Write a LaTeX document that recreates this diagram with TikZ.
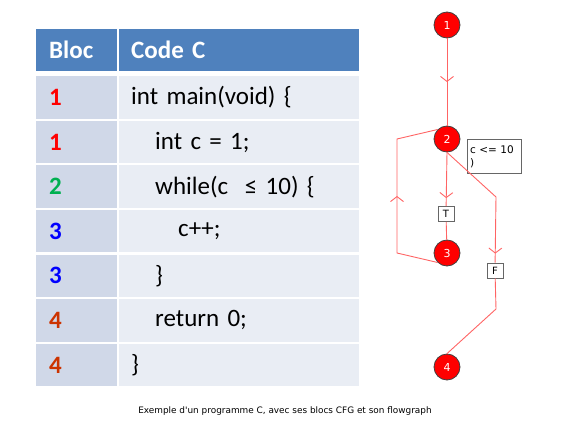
\documentclass[tikz,border=0pt]{standalone}
\usepackage{fontspec}
\setmainfont{Carlito}
\newfontfamily\grafont{DejaVu Sans}
\usepackage{xcolor}
\usetikzlibrary{arrows.meta, decorations.markings}

\definecolor{hdrblue}{RGB}{79,129,189}
\definecolor{cellA}{RGB}{208,216,232}
\definecolor{cellB}{RGB}{233,237,244}
\definecolor{blkred}{RGB}{255,0,0}
\definecolor{blkgreen}{RGB}{0,176,80}
\definecolor{blkblue}{RGB}{0,0,255}
\definecolor{blkorange}{RGB}{204,51,0}
\definecolor{edgered}{RGB}{255,100,100}

\begin{document}
\begin{tikzpicture}[
        x=1pt, y=-1pt,
        hdrcell/.style={fill=hdrblue, text=white, font=\fontsize{25}{30}\selectfont\bfseries,
                        minimum height=42pt, inner ysep=0pt, align=left, anchor=north west},
        numcell/.style={fill=cellA, font=\fontsize{25}{30}\selectfont\bfseries, text width=55pt,
                        inner xsep=13pt, inner ysep=0pt, minimum height=42.4pt, align=left,
                        anchor=north west},
        codecell/.style={fill=cellB, font=\fontsize{25}{30}\selectfont, text width=216pt,
                         inner xsep=12pt, inner ysep=0pt, minimum height=42.4pt, align=left,
                         anchor=north west},
        blk/.style={circle, fill=blkred, draw=black!75, thick, minimum size=26pt, inner sep=0pt,
                    text=white, font=\grafont\fontsize{11}{12}\selectfont},
        tag/.style={rectangle, draw=black!60, thick, fill=white, minimum width=16pt,
                    minimum height=15pt, inner sep=0pt, font=\grafont\fontsize{10}{11}\selectfont},
        cond/.style={rectangle, draw=black!60, thick, text width=48pt, minimum height=34pt,
                     inner xsep=3pt, inner ysep=2pt, align=left,
                     font=\grafont\fontsize{10.5}{13}\selectfont},
        edge/.style={draw=edgered, line width=0.9pt},
        midarr/.style={postaction={decorate}, decoration={markings,
                       mark=at position #1 with {\arrow{Straight Barb[length=5pt, width=13pt]}}}}
    ]
        \useasboundingbox (0,0) rectangle (566,423);

        % Table
        \node[hdrcell, text width=55pt, inner xsep=13pt] (hbloc) at (36,29) {Bloc};
        \node[hdrcell, text width=216pt, inner xsep=12pt] (hcode) at (119,29) {Code C};
        \foreach \num/\numcol/\ind/\code [count=\i from 0] in {
            1/blkred/0/{int main(void) \{},
            1/blkred/24/{int c = 1;},
            2/blkgreen/24/{while(c \ ≤ 10) \{},
            3/blkblue/47/{c++;},
            3/blkblue/24/{\}},
            4/blkorange/24/{return 0;},
            4/blkorange/0/{\}}}{
            \node[numcell, text=\numcol] (bl\i) at (36,{76+\i*44.6}) {\num};
            \node[codecell] (cd\i) at (119,{76+\i*44.6}) {\hspace*{\ind pt}\code};
        }

        % Flowgraph nodes
        \node[blk] (n1) at (447,25) {1};
        \node[blk] (n2) at (447,139) {2};
        \node[blk] (n3) at (447,253) {3};
        \node[blk] (n4) at (447,367) {4};
        \node[tag] (tT) at (446,214) {T};
        \node[tag] (tF) at (495,270.5) {F};
        \node[cond] (cnd) at (494,156.5) {c <= 10\\)};
        \coordinate (kF1) at (496,197);
        \coordinate (kF2) at (496,309);
        \coordinate (kB1) at (397,253);
        \coordinate (kB2) at (397,139);

        % Edges
        \draw[edge, midarr=0.5] (n1) -- (n2);
        \draw[edge, midarr=-8pt] (n2.south) -- (tT);
        \draw[edge] (tT) -- (n3);
        \draw[edge, midarr=0.5] (n3.225) -- (kB1) -- (kB2) -- (n2.135);
        \draw[edge, midarr=-9pt] (n2.south) -- (kF1) -- (tF);
        \draw[edge] (tF) -- (kF2) -- (n4.north);

        % Caption
        \node[font=\grafont\fontsize{8.9}{10}\selectfont] (cap) at (285,411)
            {Exemple d'un programme C, avec ses blocs CFG et son flowgraph};
    \end{tikzpicture}
\end{document}
